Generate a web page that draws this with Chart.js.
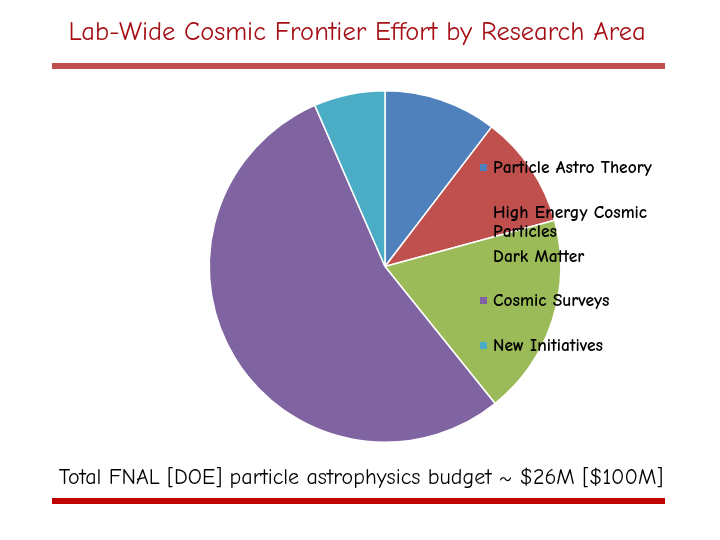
<!DOCTYPE html>
<html>
<head>
<meta charset="utf-8">
<script src="https://cdn.jsdelivr.net/npm/chart.js@4/dist/chart.umd.min.js"></script>
<style>
  html, body { margin: 0; padding: 0; background: #fff; }
  #wrap { width: 720px; height: 540px; position: relative; }
</style>
</head>
<body>
<div id="wrap"><canvas id="pieChart" width="720" height="540"></canvas></div>
<script>
// Chart data (share of effort, $M of the ~$26M total)
const areaLabels = ['Particle Astro Theory', 'High Energy Cosmic Particles', 'Dark Matter', 'Cosmic Surveys', 'New Initiatives'];
const areaValues = [2.7, 2.7, 4.8, 14.1, 1.7];
const areaColors = ['#4F81BD', '#C0504D', '#9BBB59', '#8064A2', '#4BACC6'];

const titleText = 'Lab-Wide Cosmic Frontier Effort by Research Area';
const footerText = 'Total FNAL [DOE] particle astrophysics budget ~ $26M [$100M]';

const FONT = '"Comic Sans MS", "Comic Neue", "DejaVu Sans", sans-serif';

// fit a line of text to a target width
function fitFont(ctx, text, width, maxSize, weight) {
    const w = weight ? weight + ' ' : '';
    let size = maxSize;
    ctx.font = w + size + 'px ' + FONT;
    while (ctx.measureText(text).width > width && size > 8) {
        size -= 0.5;
        ctx.font = w + size + 'px ' + FONT;
    }
    return size;
}

// Slide decorations: title, rules, footer and an overlapping legend
const slidePlugin = {
    id: 'slide',
    afterDraw(chart) {
        const c = chart.ctx;
        c.save();

        // title
        c.fillStyle = '#A50F15';
        c.textAlign = 'center';
        c.textBaseline = 'middle';
        fitFont(c, titleText, 584, 32);
        c.fillText(titleText, 357, 33);

        // top rule
        c.fillStyle = '#C0504D';
        c.fillRect(52, 63, 613, 6);

        // footer
        c.fillStyle = '#000';
        fitFont(c, footerText, 608, 26);
        c.fillText(footerText, 361, 478);

        // bottom rule
        c.fillStyle = '#C00000';
        c.fillRect(52, 498, 613, 6);

        // legend (drawn on top of the pie like the original)
        const rows = [[168], [213, 232], [257], [301], [346]];
        const lines = [['Particle Astro Theory'], ['High Energy Cosmic', 'Particles'], ['Dark Matter'], ['Cosmic Surveys'], ['New Initiatives']];
        const size = fitFont(c, 'Particle Astro Theory', 163, 20, 'bold');
        c.font = 'bold ' + size + 'px ' + FONT;
        c.textAlign = 'left';
        c.textBaseline = 'middle';
        chart.data.labels.forEach((lbl, i) => {
            c.fillStyle = chart.data.datasets[0].backgroundColor[i];
            c.fillRect(480, rows[i][0] - 4, 7, 7);
            c.fillStyle = '#000';
            lines[i].forEach((ln, j) => c.fillText(ln, 493, rows[i][j]));
        });

        c.restore();
    }
};

const ctx = document.getElementById('pieChart').getContext('2d');
const chart = new Chart(ctx, {
    type: 'pie',
    data: {
        labels: areaLabels,
        datasets: [{
            data: areaValues,
            backgroundColor: areaColors,
            borderColor: '#ffffff',
            borderWidth: 1.5
        }]
    },
    options: {
        responsive: false,
        animation: false,
        layout: {
            padding: { left: 208, right: 158, top: 90, bottom: 97 }
        },
        plugins: {
            legend: { display: false },
            tooltip: { enabled: false }
        }
    },
    plugins: [slidePlugin]
});
</script>
</body>
</html>
